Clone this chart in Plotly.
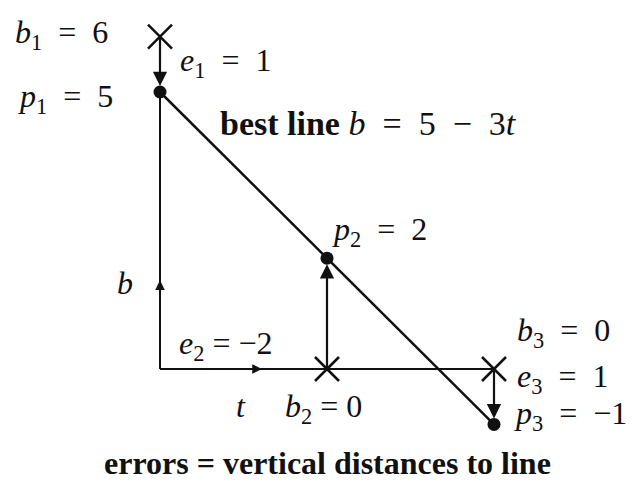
import plotly.graph_objects as go

# data
t_vals = [0, 1, 2]
b_vals = [6, 0, 0]
p_vals = [5, 2, -1]
e_vals = [1, -2, 1]
line_t = [0, 2]
line_b = [5 - 3 * t for t in line_t]

W, H = 638, 494
x0px, sx = 160, 167.0
y0px, sy = 369, 55.4
xr = [(0 - x0px) / sx, (W - x0px) / sx]
yr = [(y0px - H) / sy, (y0px - 0) / sy]

SERIF = "Liberation Serif, Times New Roman, serif"
FS = 32
INK = "#111111"
EQ = "&nbsp;&nbsp;=&nbsp;&nbsp;"

fig = go.Figure()

fig.add_trace(go.Scatter(x=[0, 0], y=[0, p_vals[0]], mode="lines",
                         line=dict(color=INK, width=2), hoverinfo="skip"))
fig.add_trace(go.Scatter(x=[0, t_vals[2]], y=[0, 0], mode="lines",
                         line=dict(color=INK, width=2), hoverinfo="skip"))
fig.add_trace(go.Scatter(x=line_t, y=line_b, mode="lines",
                         line=dict(color=INK, width=2.5), hoverinfo="skip"))
fig.add_trace(go.Scatter(x=t_vals, y=b_vals, mode="markers",
                         marker=dict(symbol="x-thin", size=24,
                                     line=dict(color=INK, width=2.5)),
                         hoverinfo="skip"))
fig.add_trace(go.Scatter(x=t_vals, y=p_vals, mode="markers",
                         marker=dict(symbol="circle", size=13, color=INK),
                         hoverinfo="skip"))

ann = []
for t, b, p in zip(t_vals, b_vals, p_vals):
    ann.append(dict(x=t, y=p, ax=t, ay=b, xref="x", yref="y", axref="x", ayref="y",
                    showarrow=True, arrowhead=2, arrowsize=1.3, arrowwidth=2.2,
                    arrowcolor=INK, standoff=6, text=""))
ann.append(dict(x=0, y=1.6, ax=0, ay=1.2, xref="x", yref="y", axref="x", ayref="y",
                showarrow=True, arrowhead=2, arrowsize=1.2, arrowwidth=1.6,
                arrowcolor=INK, text=""))
ann.append(dict(x=0.61, y=0, ax=0.3, ay=0, xref="x", yref="y", axref="x", ayref="y",
                showarrow=True, arrowhead=2, arrowsize=1.2, arrowwidth=1.6,
                arrowcolor=INK, text=""))

def lab(x, y, text, xanchor="left", size=FS):
    ann.append(dict(x=x, y=y, xref="x", yref="y", text=text, showarrow=False,
                    xanchor=xanchor, yanchor="middle",
                    font=dict(family=SERIF, size=size, color=INK)))

lab(-0.30, 6.04, "<i>b</i><sub>1</sub>" + EQ + "6", "right")
lab(-0.27, 4.89, "<i>p</i><sub>1</sub>" + EQ + "5", "right")
lab(0.108, 5.54, "<i>e</i><sub>1</sub>" + EQ + "1")
lab(0.347, 4.43, "<b>best line</b>&nbsp;<i>b</i>" + EQ + "5&nbsp;&nbsp;−&nbsp;&nbsp;3<i>t</i>", size=34)
lab(1.018, 2.49, "<i>p</i><sub>2</sub>" + EQ + "2")
lab(-0.21, 1.55, "<i>b</i>", "center")
lab(0.10, 0.42, "<i>e</i><sub>2</sub>&nbsp;=&nbsp;−2")
lab(0.485, -0.67, "<i>t</i>", "center")
lab(0.737, -0.72, "<i>b</i><sub>2</sub>&nbsp;=&nbsp;0")
lab(2.126, 0.66, "<i>b</i><sub>3</sub>" + EQ + "0")
lab(2.126, -0.17, "<i>e</i><sub>3</sub>" + EQ + "1")
lab(2.108, -0.84, "<i>p</i><sub>3</sub>" + EQ + "−1")
lab(1.0, -1.70, "<b>errors = vertical distances to line</b>", "center", 32)

fig.update_layout(
    width=W, height=H, margin=dict(l=0, r=0, t=0, b=0),
    paper_bgcolor="white", plot_bgcolor="white", showlegend=False,
    xaxis=dict(range=xr, visible=False, fixedrange=True),
    yaxis=dict(range=yr, visible=False, fixedrange=True),
    annotations=ann,
)

fig.write_html("out.html", config={"displayModeBar": False},
               post_script="document.body.style.margin='0';")
